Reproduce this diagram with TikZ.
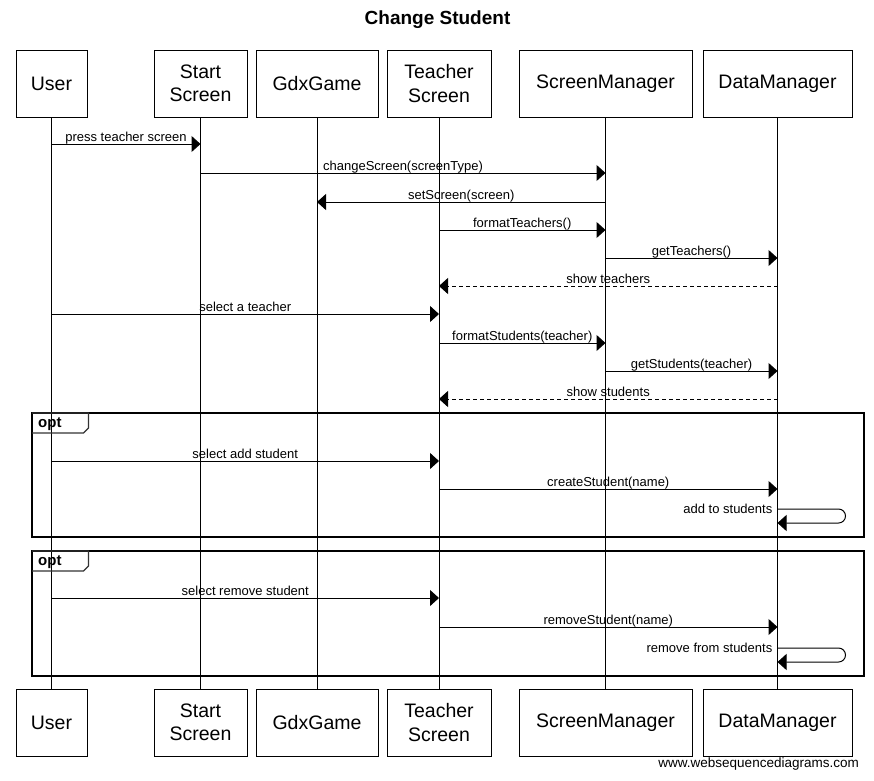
\documentclass[tikz,border=0pt]{standalone}
\usepackage{fontspec}
\setmainfont{Liberation Sans}
\usetikzlibrary{arrows.meta}
\begin{document}
\begin{tikzpicture}[x=1pt,y=-1pt,
  actor/.style={draw, line width=1pt, minimum height=67pt, inner sep=0pt, align=center,
                font=\fontsize{19.5}{23.5}\selectfont},
  life/.style={line width=1pt},
  msg/.style={line width=1pt, -{Triangle[length=9pt,width=16pt]}},
  reply/.style={msg, dash pattern=on 4pt off 3pt},
  lbl/.style={midway, anchor=base, yshift=3pt, inner sep=0pt, font=\fontsize{13}{15}\selectfont},
  selflbl/.style={anchor=east, inner sep=0pt, font=\fontsize{13}{15}\selectfont},
  frame/.style={line width=2pt},
  tab/.style={line width=1.3pt, draw=black!80},
  optlbl/.style={anchor=base west, inner sep=0pt, font=\bfseries\fontsize{15}{17}\selectfont}
]
\useasboundingbox (0,0) rectangle (874,780);
\fill[white] (0,0) rectangle (874,780);

\node[font=\bfseries\fontsize{19}{22}\selectfont] (title) at (437.5,20) {Change Student};

% top actors
\node[actor, minimum width=71pt]  (uT) at (51.5,83.5)  {User};
\node[actor, minimum width=93pt]  (sT) at (200.5,83.5) {Start\\Screen};
\node[actor, minimum width=122pt] (gT) at (317,83.5)   {GdxGame};
\node[actor, minimum width=104pt] (tT) at (439,83.5)   {Teacher\\Screen};
\node[actor, minimum width=173pt] (mT) at (605.5,83.5) {ScreenManager};
\node[actor, minimum width=149pt] (dT) at (777.5,83.5) {DataManager};
% bottom actors
\node[actor, minimum width=71pt]  (uB) at (51.5,722.5)  {User};
\node[actor, minimum width=93pt]  (sB) at (200.5,722.5) {Start\\Screen};
\node[actor, minimum width=122pt] (gB) at (317,722.5)   {GdxGame};
\node[actor, minimum width=104pt] (tB) at (439,722.5)   {Teacher\\Screen};
\node[actor, minimum width=173pt] (mB) at (605.5,722.5) {ScreenManager};
\node[actor, minimum width=149pt] (dB) at (777.5,722.5) {DataManager};

% lifelines
\foreach \a in {u,s,g,t,m,d} { \draw[life] (\a T.south) -- (\a B.north); }

% opt frames
\draw[frame] (32,413) rectangle (864,537);
\draw[tab] (32,413) -- (88.5,413) -- (88.5,428) -- (83.5,433) -- (32,433);
\node[optlbl] (opt1) at (38,427) {opt};
\draw[frame] (32,551) rectangle (864,675.5);
\draw[tab] (32,551) -- (88.5,551) -- (88.5,566) -- (83.5,571) -- (32,571);
\node[optlbl] (opt2) at (38,565) {opt};

% message rows
\coordinate (m1) at (0,144);
\coordinate (m2) at (0,173);
\coordinate (m3) at (0,202);
\coordinate (m4) at (0,230);
\coordinate (m5) at (0,258);
\coordinate (m6) at (0,286);
\coordinate (m7) at (0,314);
\coordinate (m8) at (0,343);
\coordinate (m9) at (0,371);
\coordinate (m10) at (0,399);
\coordinate (m11) at (0,461);
\coordinate (m12) at (0,489);
\coordinate (m13) at (0,509);
\coordinate (m13b) at (0,523);
\coordinate (m14) at (0,598);
\coordinate (m15) at (0,627);
\coordinate (m16) at (0,648);
\coordinate (m16b) at (0,662);

\draw[msg] (uT |- m1) -- (sT |- m1) node[lbl] {press teacher screen};
\draw[msg] (sT |- m2) -- (mT |- m2) node[lbl] {changeScreen(screenType)};
\draw[msg] (mT |- m3) -- (gT |- m3) node[lbl] {setScreen(screen)};
\draw[msg] (tT |- m4) -- (mT |- m4) node[lbl] {formatTeachers()};
\draw[msg] (mT |- m5) -- (dT |- m5) node[lbl] {getTeachers()};
\draw[reply] (dT |- m6) -- (tT |- m6) node[lbl] {show teachers};
\draw[msg] (uT |- m7) -- (tT |- m7) node[lbl] {select a teacher};
\draw[msg] (tT |- m8) -- (mT |- m8) node[lbl] {formatStudents(teacher)};
\draw[msg] (mT |- m9) -- (dT |- m9) node[lbl] {getStudents(teacher)};
\draw[reply] (dT |- m10) -- (tT |- m10) node[lbl] {show students};

\draw[msg] (uT |- m11) -- (tT |- m11) node[lbl] {select add student};
\draw[msg] (tT |- m12) -- (dT |- m12) node[lbl] {createStudent(name)};
\draw[msg, rounded corners=7pt] (dT |- m13) -- ++(68,0) -- ++(0,14) -- (dT |- m13b);
\node[selflbl] (s13) at ([xshift=-5pt]dT |- m13) {add to students};

\draw[msg] (uT |- m14) -- (tT |- m14) node[lbl] {select remove student};
\draw[msg] (tT |- m15) -- (dT |- m15) node[lbl] {removeStudent(name)};
\draw[msg, rounded corners=7pt] (dT |- m16) -- ++(68,0) -- ++(0,14) -- (dT |- m16b);
\node[selflbl] (s16) at ([xshift=-5pt]dT |- m16) {remove from students};

\node[anchor=base east, inner sep=0pt, font=\fontsize{13.5}{15}\selectfont] (footer) at (859,767) {www.websequencediagrams.com};
\end{tikzpicture}
\end{document}
